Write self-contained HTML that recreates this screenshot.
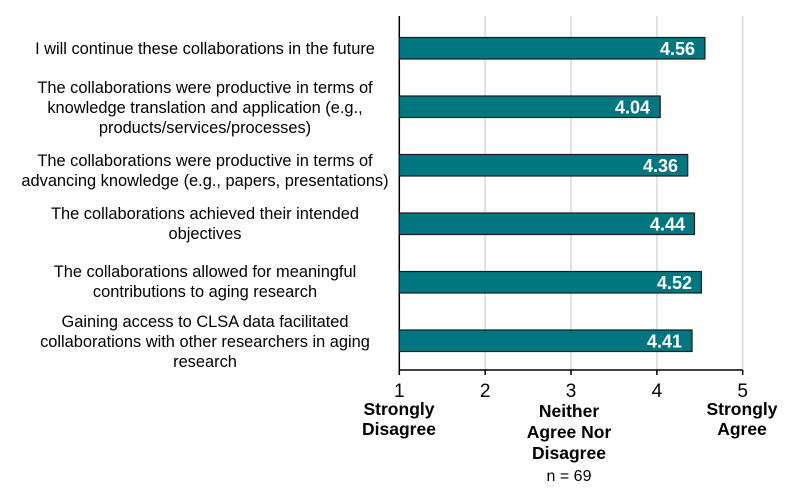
<!DOCTYPE html>
<html><head><style>
body{margin:0;background:#fff;width:800px;height:487px;overflow:hidden;font-family:"Liberation Sans",Arial,sans-serif}
</style></head><body>
<svg width="800" height="487" xmlns="http://www.w3.org/2000/svg" font-family="Liberation Sans, Arial, sans-serif">
<g stroke="#d9d9d9" stroke-width="1.5">
<line x1="485.2" y1="16" x2="485.2" y2="370"/>
<line x1="571" y1="16" x2="571" y2="370"/>
<line x1="656.9" y1="16" x2="656.9" y2="370"/>
<line x1="742.7" y1="16" x2="742.7" y2="370"/>
</g>
<g stroke="#000" stroke-width="1.5">
<line x1="399.3" y1="16" x2="399.3" y2="370"/>
<line x1="399.3" y1="370" x2="742.7" y2="370"/>
<line x1="399.3" y1="370" x2="399.3" y2="375"/>
<line x1="485.2" y1="370" x2="485.2" y2="375"/>
<line x1="571" y1="370" x2="571" y2="375"/>
<line x1="656.9" y1="370" x2="656.9" y2="375"/>
<line x1="742.7" y1="370" x2="742.7" y2="375"/>
</g>
<g fill="#007780" stroke="#1a1a1a" stroke-width="1.2">
<rect x="399.3" y="37.5" width="305.6" height="21.5"/>
<rect x="399.3" y="96" width="260.9" height="21.5"/>
<rect x="399.3" y="154.5" width="288.4" height="21.5"/>
<rect x="399.3" y="213" width="295.2" height="21.5"/>
<rect x="399.3" y="271.5" width="302.1" height="21.5"/>
<rect x="399.3" y="330" width="292.7" height="21.5"/>
</g>
<g fill="#fff" font-weight="bold" font-size="18" text-anchor="end">
<text x="695" y="55">4.56</text>
<text x="650" y="113.5">4.04</text>
<text x="678" y="172">4.36</text>
<text x="685" y="230.5">4.44</text>
<text x="692" y="289">4.52</text>
<text x="682" y="347.5">4.41</text>
</g>
<g font-size="16.4" fill="#000" text-anchor="middle">
<text x="205" y="54">I will continue these collaborations in the future</text>
<text x="205" y="93">The collaborations were productive in terms of</text>
<text x="205" y="113">knowledge translation and application (e.g.,</text>
<text x="205" y="133">products/services/processes)</text>
<text x="205" y="166">The collaborations were productive in terms of</text>
<text x="205" y="186">advancing knowledge (e.g., papers, presentations)</text>
<text x="205" y="219">The collaborations achieved their intended</text>
<text x="205" y="239">objectives</text>
<text x="205" y="277">The collaborations allowed for meaningful</text>
<text x="205" y="297">contributions to aging research</text>
<text x="205" y="327">Gaining access to CLSA data facilitated</text>
<text x="205" y="347">collaborations with other researchers in aging</text>
<text x="205" y="367">research</text>
</g>
<g font-size="19" text-anchor="middle">
<text x="399.3" y="397">1</text>
<text x="485.2" y="397">2</text>
<text x="571" y="397">3</text>
<text x="656.9" y="397">4</text>
<text x="742.7" y="397">5</text>
</g>
<g font-size="17.5" font-weight="bold" text-anchor="middle">
<text x="399" y="415">Strongly</text>
<text x="399" y="435">Disagree</text>
<text x="569" y="417">Neither</text>
<text x="569" y="438">Agree Nor</text>
<text x="569" y="459">Disagree</text>
<text x="742" y="415">Strongly</text>
<text x="742" y="435">Agree</text>
</g>
<text x="569" y="481" font-size="16" text-anchor="middle">n = 69</text>
</svg>
</body></html>
